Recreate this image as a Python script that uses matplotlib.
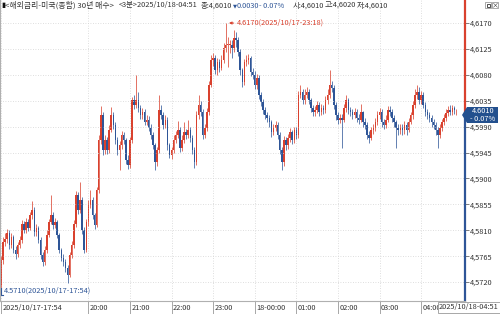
import numpy as np
import matplotlib.pyplot as plt
from matplotlib.patches import Polygon, Rectangle
from matplotlib.transforms import ScaledTranslation, blended_transform_factory

plt.rcParams['font.family'] = ['Noto Sans CJK KR', 'DejaVu Sans']

# 3분봉 시세 (단위 0.0001), 2025/10/17-17:54 ~ 2025/10/18-04:51
opens = [45715, 45758, 45790, 45795, 45805, 45785, 45798, 45776, 45768, 45785,
         45793, 45820, 45810, 45824, 45814, 45836, 45845, 45807, 45814, 45793,
         45767, 45755, 45776, 45802, 45824, 45836, 45819, 45824, 45802, 45776,
         45762, 45755, 45745, 45732, 45767, 45785, 45820, 45871, 45845, 45863,
         45810, 45776, 45824, 45854, 45863, 45836, 45819, 45880, 45967, 46010,
         45949, 45967, 45949, 45984, 46010, 45993, 45967, 45949, 45958, 45975,
         45967, 45932, 45923, 45967, 46036, 46028, 46036, 46022, 46010, 46015,
         45998, 46002, 45988, 45975, 45958, 45928, 45949, 46019, 46010, 45993,
         46002, 45958, 45941, 45949, 45967, 45975, 45984, 45953, 45967, 45980,
         45975, 45984, 45970, 45949, 45928, 46010, 46028, 46015, 45975, 45988,
         46015, 46062, 46106, 46109, 46088, 46102, 46092, 46106, 46127, 46132,
         46132, 46132, 46127, 46144, 46140, 46120, 46088, 46067, 46102, 46106,
         46109, 46085, 46080, 46062, 46075, 46045, 46033, 46019, 46010, 46005,
         45998, 45980, 45988, 45993, 45975, 45949, 45928, 45967, 45958, 45970,
         45980, 45967, 45984, 45975, 46045, 46050, 46036, 46045, 46050, 46036,
         46022, 46015, 46019, 46028, 46015, 46022, 46019, 46036, 46045, 46062,
         46057, 46028, 46010, 46002, 46005, 46002, 46022, 46036, 46019, 46015,
         46010, 46015, 46005, 46002, 46015, 45998, 45993, 45975, 45970, 45984,
         45988, 45998, 46010, 46015, 45998, 45993, 46002, 46019, 46015, 46005,
         45998, 45988, 45984, 45988, 45984, 45993, 45984, 45998, 46010, 46028,
         46045, 46050, 46036, 46045, 46028, 46015, 46010, 46005, 45998, 45993,
         45984, 45975, 45988, 45998, 46005, 46013, 46019, 46015, 46022, 46010]
highs = [45765, 45798, 45805, 45812, 45810, 45806, 45802, 45782, 45790, 45800,
         45828, 45826, 45832, 45830, 45842, 45860, 45850, 45820, 45818, 45798,
         45772, 45782, 45810, 45830, 45872, 45842, 45832, 45828, 45806, 45780,
         45768, 45760, 45750, 45772, 45792, 45828, 45878, 45876, 45893, 45868,
         45815, 45830, 45862, 45880, 45868, 45840, 45886, 45975, 46025, 46015,
         45975, 45972, 45992, 46024, 46015, 45998, 45972, 45965, 45982, 45980,
         45970, 45940, 45972, 46042, 46045, 46080, 46050, 46028, 46022, 46020,
         46010, 46008, 45994, 45980, 45962, 45955, 46045, 46028, 46015, 46010,
         46006, 45962, 45955, 45975, 45982, 46000, 45990, 45975, 45998, 45986,
         46002, 45990, 45975, 45955, 46018, 46045, 46034, 46020, 45995, 46022,
         46070, 46115, 46118, 46114, 46110, 46108, 46115, 46135, 46170, 46145,
         46140, 46140, 46158, 46155, 46145, 46125, 46092, 46108, 46114, 46116,
         46112, 46092, 46086, 46082, 46080, 46050, 46038, 46024, 46016, 46010,
         46002, 45995, 46000, 45998, 45980, 45955, 45974, 45972, 45978, 45988,
         45985, 45990, 45990, 46052, 46062, 46055, 46055, 46058, 46055, 46040,
         46028, 46026, 46035, 46032, 46030, 46028, 46044, 46055, 46088, 46070,
         46062, 46032, 46015, 46012, 46012, 46030, 46045, 46040, 46024, 46020,
         46022, 46020, 46012, 46030, 46018, 46005, 45998, 45982, 45990, 45995,
         46005, 46018, 46022, 46020, 46004, 46010, 46026, 46026, 46020, 46010,
         46002, 45995, 45995, 45994, 46000, 45998, 46005, 46016, 46035, 46055,
         46062, 46058, 46052, 46050, 46032, 46020, 46015, 46010, 46004, 45998,
         45990, 45994, 46004, 46012, 46020, 46026, 46028, 46028, 46026, 46020]
lows = [45710, 45752, 45782, 45788, 45778, 45780, 45770, 45760, 45763, 45780,
        45788, 45805, 45806, 45808, 45810, 45830, 45800, 45800, 45788, 45760,
        45748, 45750, 45770, 45798, 45820, 45812, 45814, 45796, 45770, 45756,
        45748, 45738, 45718, 45728, 45762, 45780, 45815, 45838, 45840, 45804,
        45770, 45772, 45818, 45848, 45830, 45812, 45815, 45875, 45960, 45940,
        45942, 45942, 45945, 45980, 45986, 45960, 45940, 45915, 45952, 45960,
        45925, 45916, 45918, 45962, 46020, 46022, 46016, 46004, 46004, 45992,
        45992, 45982, 45968, 45952, 45915, 45922, 45945, 46004, 45986, 45988,
        45950, 45935, 45934, 45944, 45962, 45970, 45946, 45948, 45962, 45968,
        45970, 45964, 45942, 45918, 45924, 46004, 46008, 45968, 45970, 45982,
        46010, 46058, 46095, 46082, 46080, 46085, 46088, 46100, 46120, 46094,
        46118, 46110, 46120, 46128, 46112, 46080, 46058, 46062, 46096, 46098,
        46078, 46072, 46055, 46056, 46038, 46026, 46012, 46004, 45998, 45990,
        45972, 45975, 45982, 45968, 45942, 45915, 45922, 45950, 45952, 45964,
        45960, 45962, 45968, 45970, 46040, 46030, 46030, 46040, 46030, 46015,
        46008, 46008, 46014, 46008, 46010, 46012, 46014, 46030, 46040, 46050,
        46020, 46002, 45995, 45996, 45953, 45998, 46016, 46012, 46008, 46004,
        46005, 45998, 45995, 45998, 45990, 45986, 45968, 45962, 45966, 45978,
        45982, 45992, 46004, 45990, 45986, 45988, 45998, 46008, 45998, 45990,
        45953, 45976, 45978, 45976, 45978, 45976, 45980, 45994, 46004, 46022,
        46038, 46030, 46030, 46022, 46008, 46004, 45998, 45990, 45986, 45976,
        45953, 45970, 45982, 45992, 46000, 46008, 46010, 46010, 46012, 46010]
closes = [45758, 45790, 45795, 45805, 45785, 45798, 45776, 45768, 45785, 45793,
          45820, 45810, 45824, 45814, 45836, 45845, 45807, 45814, 45793, 45767,
          45755, 45776, 45802, 45824, 45836, 45819, 45824, 45802, 45776, 45762,
          45755, 45745, 45732, 45767, 45785, 45820, 45871, 45845, 45863, 45810,
          45776, 45824, 45854, 45863, 45836, 45819, 45880, 45967, 46010, 45949,
          45967, 45949, 45984, 46010, 45993, 45967, 45949, 45958, 45975, 45967,
          45932, 45923, 45967, 46036, 46028, 46036, 46022, 46010, 46015, 45998,
          46002, 45988, 45975, 45958, 45928, 45949, 46019, 46010, 45993, 46002,
          45958, 45941, 45949, 45967, 45975, 45984, 45953, 45967, 45980, 45975,
          45984, 45970, 45949, 45928, 46010, 46028, 46015, 45975, 45988, 46015,
          46062, 46106, 46109, 46088, 46102, 46092, 46106, 46127, 46132, 46132,
          46132, 46127, 46144, 46140, 46120, 46088, 46067, 46102, 46106, 46109,
          46085, 46080, 46062, 46075, 46045, 46033, 46019, 46010, 46005, 45998,
          45980, 45988, 45993, 45975, 45949, 45928, 45967, 45958, 45970, 45980,
          45967, 45984, 45975, 46045, 46050, 46036, 46045, 46050, 46036, 46022,
          46015, 46019, 46028, 46015, 46022, 46019, 46036, 46045, 46062, 46057,
          46028, 46010, 46002, 46005, 46002, 46022, 46036, 46019, 46015, 46010,
          46015, 46005, 46002, 46015, 45998, 45993, 45975, 45970, 45984, 45988,
          45998, 46010, 46015, 45998, 45993, 46002, 46019, 46015, 46005, 45998,
          45988, 45984, 45988, 45984, 45993, 45984, 45998, 46010, 46028, 46045,
          46050, 46036, 46045, 46028, 46015, 46010, 46005, 45998, 45993, 45984,
          45975, 45988, 45998, 46005, 46013, 46019, 46015, 46022, 46019, 46010]

y_ticks = [4.5720, 4.5765, 4.5810, 4.5855, 4.5900, 4.5945, 4.5990, 4.6035, 4.6080, 4.6125, 4.6170]
x_tick_pos = [0, 42, 62, 82, 102, 122, 142, 162, 182, 202]
x_tick_labels = ["2025/10/17-17:54", "20:00", "21:00", "22:00", "23:00",
                 "18-00:00", "01:00", "02:00", "03:00", "04:00"]
last_time = "2025/10/18-04:51"
last_price = 4.6010
high_idx, high_val, high_time = 108, 4.6170, "2025/10/17-23:18"
low_idx, low_val, low_time = 0, 4.5710, "2025/10/17-17:54"

RED = '#d9412e'
BLUE = '#2e5597'
TXT = '#333333'
FS = 5.3

o = np.array(opens) / 10000
h = np.array(highs) / 10000
l = np.array(lows) / 10000
c = np.array(closes) / 10000
x = np.arange(len(c))
cols = [RED if cc >= oo else BLUE for oo, cc in zip(o, c)]

W, H = 500, 314
fig = plt.figure(figsize=(5, 3.14), dpi=100)
ax = fig.add_axes([0, 13 / H, 465 / W, 1 - 13 / H])

def px(xp, yp):
    return xp / W, 1 - yp / H

# 캔들
ax.vlines(x, l, h, colors=cols, lw=0.7, alpha=0.75)
body = np.maximum(np.abs(c - o), 0.00008)
ax.bar(x, body, bottom=np.minimum(o, c), width=0.72, color=cols, linewidth=0)

ax.set_xlim(-0.48, 223.1)
ax.set_ylim(4.56871, 4.62100)

ax.set_yticks(y_ticks)
ax.set_yticklabels([f"{v:.4f}".replace('.', ',') for v in y_ticks])
ax.yaxis.tick_right()
ax.tick_params(axis='y', length=3, width=0.6, color='#666666', pad=0.5,
               labelsize=FS, labelcolor=TXT)

ax.set_xticks(x_tick_pos)
ax.set_xticklabels(x_tick_labels, ha='left')
ax.tick_params(axis='x', length=9, width=0.6, color='#999999', pad=-6.5,
               labelsize=FS, labelcolor=TXT)
for lbl in ax.get_xticklabels():
    lbl.set_transform(lbl.get_transform() + ScaledTranslation(1.5 / 100, 0, fig.dpi_scale_trans))

ax.grid(True, color='#d4d4d4', linestyle=(0, (1, 2)), lw=0.6)
for s in ['top', 'right']:
    ax.spines[s].set_visible(False)
ax.spines['left'].set_color('#b0b0b0')
ax.spines['bottom'].set_color('#b0b0b0')
ax.spines['left'].set_linewidth(0.8)
ax.spines['bottom'].set_linewidth(0.8)

# 오른쪽 축선: 현재가 위 빨강, 아래 파랑
bt = blended_transform_factory(ax.transAxes, ax.transData)
ax.plot([1, 1], [last_price, 4.62100], color=RED, lw=1.6, transform=bt, clip_on=False)
ax.plot([1, 1], [4.56871, last_price], color=BLUE, lw=1.6, transform=bt, clip_on=False)

# 최고/최저 표시
ax.annotate('', xy=(high_idx + 0.3, high_val), xytext=(high_idx + 5.3, high_val),
            arrowprops=dict(arrowstyle='-|>', color=RED, lw=0.6, mutation_scale=4))
ax.text(high_idx + 5.4, high_val, f"{high_val:.4f}({high_time})", color=RED,
        fontsize=FS, va='center', ha='left')
ax.plot([low_idx, low_idx, low_idx + 1.2], [low_val, 4.5698, 4.5698], color=BLUE, lw=0.8)
ax.text(low_idx + 1.2, 4.5698, f"{low_val:.4f}({low_time})", color=BLUE,
        fontsize=FS, va='bottom', ha='left')

# 현재가 배지
badge = Polygon([px(462, 115), px(467, 107), px(498, 107), px(498, 123), px(467, 123)],
                closed=True, transform=fig.transFigure, facecolor='#23508e', edgecolor='none')
fig.patches.append(badge)
fig.text(*px(483, 111), f"{last_price:.4f}", color='white', fontsize=FS, ha='center', va='center')
fig.text(*px(483, 119), "- 0.07%", color='white', fontsize=FS, ha='center', va='center')

# 마지막 시각 라벨
fig.text(*px(439, 307.5), last_time, color=TXT, fontsize=FS, ha='left', va='center',
         bbox=dict(boxstyle='square,pad=0.2', facecolor='white', edgecolor='#999999', lw=0.6))

# 상단 타이틀
hy = 1 - 5.5 / H
fig.text(1 / W, hy, "▮", color='#111111', fontsize=FS, va='center')
fig.text(5 / W, hy, "<해외금리-미국(종합) 30년 매수>", color=TXT, fontsize=5.65, va='center')
fig.text(119 / W, hy, "<3분>2025/10/18-04:51", color=TXT, fontsize=FS, va='center')
fig.text(201 / W, hy, "종:4,6010", color=TXT, fontsize=FS, va='center')
fig.text(233 / W, hy, "▼", color=BLUE, fontsize=3.8, va='center', family='DejaVu Sans')
fig.text(237 / W, hy, "0.0030", color=BLUE, fontsize=FS, va='center')
fig.text(259 / W, hy, "- 0.07%", color=BLUE, fontsize=FS, va='center')
fig.text(293 / W, hy, "시:4,6010", color=TXT, fontsize=FS, va='center')
fig.text(325 / W, hy, "고:4,6020", color=TXT, fontsize=FS, va='center')
fig.text(357 / W, hy, "저:4,6010", color=TXT, fontsize=FS, va='center')

# 창 아이콘
for x0 in (485, 492):
    fig.patches.append(Rectangle(px(x0, 8), 6 / W, 6 / H, transform=fig.transFigure,
                                 facecolor='white', edgecolor='#888888', lw=0.5))
fig.patches.append(Rectangle(px(486.5, 6.5), 3 / W, 3 / H, transform=fig.transFigure,
                             facecolor='none', edgecolor='#333333', lw=0.6))
fig.text(*px(495, 5), "×", color='#333333', fontsize=5, ha='center', va='center')

fig.savefig('out.png', dpi=100)
